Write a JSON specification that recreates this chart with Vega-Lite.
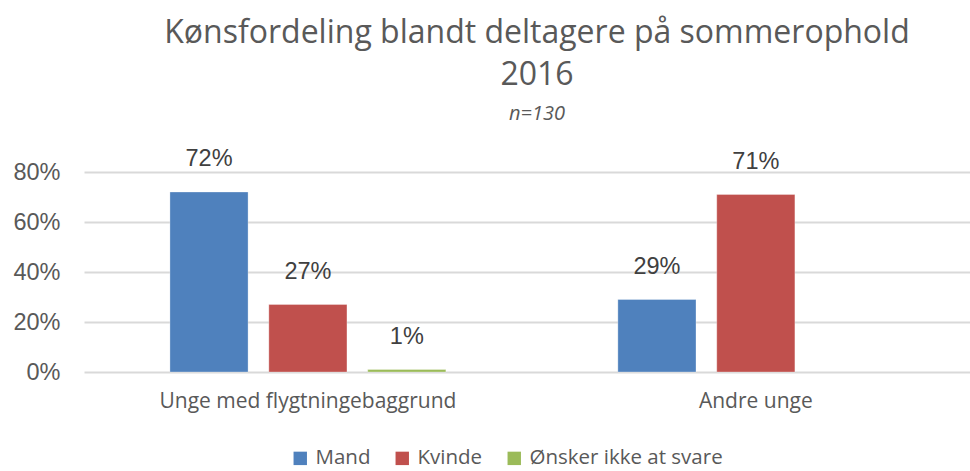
{
  "$schema": "https://vega.github.io/schema/vega-lite/v6.json",
  "autosize": {"type": "none"},
  "width": 886,
  "height": 200,
  "padding": {"left": 84, "top": 172, "right": 0, "bottom": 99},
  "background": "white",
  "title": {
    "text": ["Kønsfordeling blandt deltagere på sommerophold", "2016"],
    "subtitle": "n=130",
    "font": "Open Sans",
    "fontSize": 32,
    "fontWeight": "normal",
    "color": "#595959",
    "lineHeight": 42,
    "subtitleFont": "Open Sans",
    "subtitleFontSize": 20,
    "subtitleFontStyle": "italic",
    "subtitleColor": "#595959",
    "subtitlePadding": 12,
    "anchor": "middle",
    "dx": 10,
    "offset": 22
  },
  "data": {
    "values": [
      {"gruppe": "Unge med flygtningebaggrund", "koen": "Mand", "andel": 0.72},
      {"gruppe": "Unge med flygtningebaggrund", "koen": "Kvinde", "andel": 0.27},
      {"gruppe": "Unge med flygtningebaggrund", "koen": "Ønsker ikke at svare", "andel": 0.01},
      {"gruppe": "Andre unge", "koen": "Mand", "andel": 0.29},
      {"gruppe": "Andre unge", "koen": "Kvinde", "andel": 0.71}
    ]
  },
  "encoding": {
    "x": {
      "field": "gruppe",
      "type": "nominal",
      "sort": ["Unge med flygtningebaggrund", "Andre unge"],
      "scale": {"paddingInner": 0.384, "paddingOuter": 0.181, "align": 0.53},
      "axis": {
        "title": null,
        "labelAngle": 0,
        "labelFont": "Open Sans",
        "labelFontSize": 21,
        "labelColor": "#595959",
        "labelPadding": 18,
        "labelLimit": 0,
        "ticks": false,
        "domain": false,
        "grid": false
      }
    },
    "xOffset": {
      "field": "koen",
      "type": "nominal",
      "sort": ["Mand", "Kvinde", "Ønsker ikke at svare"],
      "scale": {"paddingInner": 0.21, "paddingOuter": 0}
    },
    "y": {
      "field": "andel",
      "type": "quantitative",
      "scale": {"domain": [0, 0.8], "nice": false},
      "axis": {
        "title": null,
        "values": [0, 0.2, 0.4, 0.6, 0.8],
        "format": ".0%",
        "labelFont": "Liberation Sans",
        "labelFontSize": 23.5,
        "labelColor": "#595959",
        "labelPadding": 24,
        "ticks": false,
        "domain": false,
        "gridColor": "#D9D9D9",
        "gridWidth": 2
      }
    }
  },
  "layer": [
    {
      "mark": {"type": "bar", "stroke": "white", "strokeOpacity": 0.3, "strokeWidth": 1},
      "encoding": {
        "color": {
          "field": "koen",
          "type": "nominal",
          "sort": ["Mand", "Kvinde", "Ønsker ikke at svare"],
          "scale": {
            "domain": ["Mand", "Kvinde", "Ønsker ikke at svare"],
            "range": ["#4F81BD", "#C0504D", "#9BBB59"]
          },
          "legend": {
            "title": null,
            "orient": "none",
            "direction": "horizontal",
            "legendX": 206,
            "legendY": 276,
            "symbolType": "square",
            "symbolSize": 180,
            "symbolStrokeWidth": 0,
            "labelFont": "Open Sans",
            "labelFontSize": 20.5,
            "labelColor": "#595959",
            "labelOffset": 5,
            "labelLimit": 0,
            "columnPadding": 21
          }
        }
      }
    },
    {
      "mark": {
        "type": "text",
        "baseline": "alphabetic",
        "dy": -26,
        "font": "Liberation Sans",
        "fontSize": 23.5,
        "color": "#404040"
      },
      "encoding": {
        "text": {"field": "andel", "type": "quantitative", "format": ".0%"}
      }
    }
  ],
  "config": {"view": {"stroke": null}}
}
